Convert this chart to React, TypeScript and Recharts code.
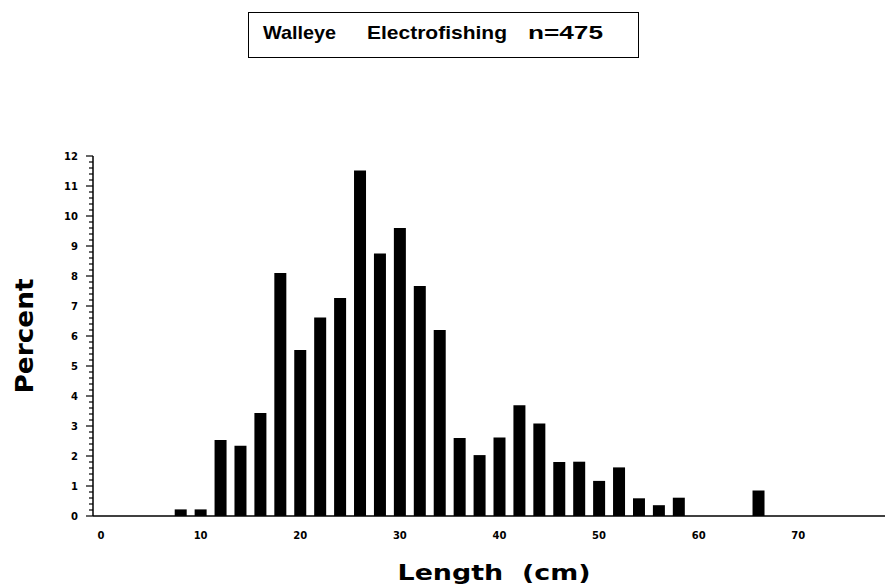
import { BarChart, Bar, XAxis, YAxis } from "recharts";

// Walleye electrofishing length-frequency, percent of n=475 per 2 cm bin
const LENGTHS = [8, 10, 12, 14, 16, 18, 20, 22, 24, 26, 28, 30, 32, 34, 36, 38, 40, 42, 44, 46, 48, 50, 52, 54, 56, 58, 66];
const PERCENT = [0.22, 0.22, 2.53, 2.34, 3.43, 8.1, 5.53, 6.62, 7.27, 11.52, 8.75, 9.6, 7.67, 6.2, 2.6, 2.03, 2.62, 3.69, 3.08, 1.8, 1.81, 1.17, 1.62, 0.59, 0.36, 0.61, 0.85];

const X_TICKS = [0, 10, 20, 30, 40, 50, 60, 70];
const Y_MAJOR = [0, 1, 2, 3, 4, 5, 6, 7, 8, 9, 10, 11, 12];
const MINOR_PER_MAJOR = 5;

const data = LENGTHS.map((len, i) => ({ len, pct: PERCENT[i] }));

// every major tick plus 4 minor ones in between
const yTicks: number[] = [];
Y_MAJOR.forEach((m, i) => {
  if (i === Y_MAJOR.length - 1) {
    yTicks.push(m);
    return;
  }
  for (let k = 0; k < MINOR_PER_MAJOR; k++) {
    yTicks.push(Math.round((m + k / MINOR_PER_MAJOR) * 10) / 10);
  }
});

const FONT = "'DejaVu Sans', sans-serif";
const Y_TICK_SIZE = 6;
const Y_TICK_MARGIN = 9;

function YTick(props: any) {
  const { x, y, payload } = props;
  const axisX = x + Y_TICK_SIZE + Y_TICK_MARGIN;
  const v = payload.value as number;
  const major = Math.abs(v - Math.round(v)) < 1e-6;
  return (
    <g>
      <line x1={axisX - (major ? 7 : 4)} x2={axisX} y1={y} y2={y} stroke="#000" strokeWidth={1.2} />
      {major && (
        <text x={x} y={y} dy="0.36em" textAnchor="end" fontFamily={FONT} fontWeight="bold" fontSize={10} fill="#000">
          {v}
        </text>
      )}
    </g>
  );
}

export default function App() {
  return (
    <div style={{ position: "absolute", left: 0, top: 0, width: 886, height: 588, background: "#fff" }}>
      <svg width={886} height={70} style={{ position: "absolute", left: 0, top: 0 }}>
        <rect x={248.5} y={12.5} width={390} height={45} fill="none" stroke="#000" strokeWidth={1} />
        <text x={263} y={39} fontFamily="'Liberation Sans', Arial, sans-serif" fontWeight="bold" fontSize={19} textLength={73} lengthAdjust="spacingAndGlyphs">
          Walleye
        </text>
        <text x={367} y={39} fontFamily="'Liberation Sans', Arial, sans-serif" fontWeight="bold" fontSize={19} textLength={140} lengthAdjust="spacingAndGlyphs">
          Electrofishing
        </text>
        <text x={528} y={39} fontFamily="'Liberation Sans', Arial, sans-serif" fontWeight="bold" fontSize={19} textLength={75} lengthAdjust="spacingAndGlyphs">
          n=475
        </text>
      </svg>
      <div style={{ position: "absolute", left: 0, top: 0 }}>
        <BarChart width={886} height={588} data={data} margin={{ top: 156, right: 1, bottom: 32, left: 0 }} barSize={12}>
          <XAxis
            dataKey="len"
            type="number"
            domain={[-0.8, 78.7]}
            ticks={X_TICKS}
            interval={0}
            allowDataOverflow
            tickLine={false}
            tickSize={0}
            tickMargin={16}
            height={40}
            axisLine={{ stroke: "#000", strokeWidth: 1.5 }}
            tick={{ fontFamily: FONT, fontWeight: "bold", fontSize: 10, fill: "#000" }}
            label={{
              content: (p: any) => {
                const vb = p.viewBox;
                return (
                  <text
                    x={vb.x + vb.width / 2 + 5}
                    y={vb.y + 64}
                    textAnchor="middle"
                    fontFamily={FONT}
                    fontWeight="bold"
                    fontSize={21}
                    textLength={193}
                    lengthAdjust="spacingAndGlyphs"
                    style={{ whiteSpace: "pre" }}
                    fill="#000"
                  >
                    {"Length  (cm)"}
                  </text>
                );
              },
            }}
          />
          <YAxis
            type="number"
            domain={[0, 12]}
            ticks={yTicks}
            interval={0}
            width={93}
            tickLine={false}
            tickSize={Y_TICK_SIZE}
            tickMargin={Y_TICK_MARGIN}
            axisLine={{ stroke: "#000", strokeWidth: 1.5 }}
            tick={YTick}
            label={{
              content: (p: any) => {
                const vb = p.viewBox;
                const cx = 33;
                const cy = vb.y + vb.height / 2;
                return (
                  <text
                    x={cx}
                    y={cy}
                    transform={`rotate(-90, ${cx}, ${cy})`}
                    textAnchor="middle"
                    fontFamily={FONT}
                    fontWeight="bold"
                    fontSize={25}
                    textLength={115}
                    lengthAdjust="spacingAndGlyphs"
                    fill="#000"
                  >
                    Percent
                  </text>
                );
              },
            }}
          />
          <Bar dataKey="pct" fill="#000" isAnimationActive={false} />
        </BarChart>
      </div>
    </div>
  );
}
